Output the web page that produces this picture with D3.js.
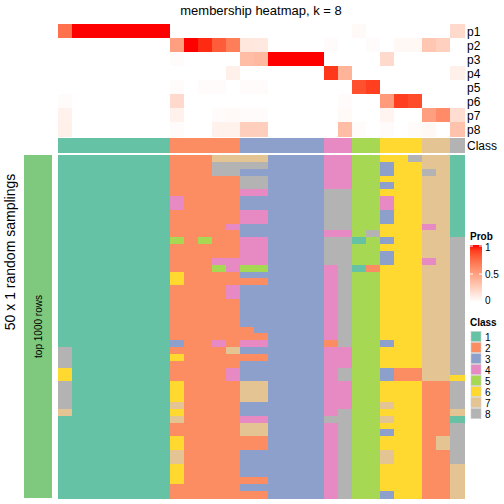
<!DOCTYPE html>
<html><head><meta charset="utf-8">
<script src="https://cdn.jsdelivr.net/npm/d3@7"></script>
<style>body{margin:0;background:#fff}svg{display:block;font-family:"Liberation Sans",Arial,sans-serif}</style>
</head><body><svg id="c" width="504" height="504"></svg>
<script>
const probRows = ["p1","p2","p3","p4","p5","p6","p7","p8"];
const prob = [
 [0.72,1,1,1,1,1,1,1, 0,0,0,0,0, 0,0,0,0,0,0, 0,0, 0.03,0, 0,0,0, 0,0, 0.2],
 [0,0,0,0,0,0,0,0, 0.5,1,0.95,0.8,0.66, 0.13,0.12,0,0,0,0, 0.02,0, 0,0.02, 0,0.04,0.04, 0.3,0.25, 0],
 [0,0,0,0,0,0,0,0, 0.02,0,0,0,0, 0.35,0.37,1,1,1,1, 0,0, 0,0, 0.2,0,0, 0,0, 0],
 [0,0,0,0,0,0,0,0, 0,0,0,0,0.08, 0,0,0,0,0,0, 0.92,0.4, 0,0, 0,0,0, 0,0, 0.08],
 [0,0,0,0,0,0,0,0, 0.02,0,0.02,0.02,0, 0.02,0.02,0,0,0,0, 0,0, 0.84,0.9, 0,0,0, 0,0, 0],
 [0.02,0,0,0,0,0,0,0, 0.2,0,0,0,0, 0,0,0,0,0,0, 0,0.02, 0,0, 0.52,0.9,0.86, 0,0, 0],
 [0.07,0,0,0,0,0,0,0, 0.07,0,0,0.02,0.03, 0.02,0.02,0,0,0,0, 0,0.03, 0,0, 0.06,0,0, 0.5,0.6, 0.18],
 [0.08,0,0,0,0,0,0,0, 0.02,0,0,0.07,0.07, 0.26,0.26,0,0,0,0, 0,0.35, 0.02,0, 0.02,0,0.02, 0.04,0, 0.32]
];
const classes = [1,1,1,1,1,1,1,1, 2,2,2,2,2, 3,3,3,3,3,3, 4,4, 5,5, 6,6,6, 7,7, 8];
const membership = [
 "11111111 22277 773333 44 55 668 77 1",
 "11111111 22288 883333 44 55 366 77 1",
 "11111111 22288 333333 44 55 366 87 1",
 "11111111 22222 883333 44 55 666 77 1",
 "11111111 22222 883333 44 55 366 77 1",
 "11111111 22222 443333 88 55 666 77 1",
 "11111111 42222 333333 88 55 466 77 1",
 "11111111 42222 333333 88 55 466 77 1",
 "11111111 22222 443333 88 55 366 77 1",
 "11111111 22222 443333 88 55 366 77 1",
 "11111111 22224 333333 88 55 666 47 1",
 "11111111 22222 333333 44 58 666 77 1",
 "11111111 52522 443333 88 15 366 77 8",
 "11111111 22222 443333 88 55 666 77 8",
 "11111111 22222 443333 88 55 366 77 8",
 "11111111 22244 443333 88 55 366 47 8",
 "11111111 22254 553333 48 12 666 77 8",
 "11111111 62222 333333 48 55 666 77 8",
 "11111111 62222 223333 48 55 666 77 8",
 "11111111 22224 333333 48 55 666 77 8",
 "11111111 22224 333333 48 55 666 77 8",
 "11111111 22222 333333 48 55 666 77 8",
 "11111111 22222 333333 48 55 666 77 8",
 "11111111 22222 333333 48 55 666 77 8",
 "11111111 22222 333333 48 55 666 77 8",
 "11111111 22222 233333 48 55 666 77 8",
 "11111111 22222 223333 48 55 666 77 8",
 "11111111 32242 443333 28 55 366 77 8",
 "81111111 22227 333333 44 55 666 77 8",
 "81111111 62222 223333 44 55 666 77 8",
 "81111111 22222 333333 44 55 666 77 8",
 "61111111 22224 333333 48 55 322 77 8",
 "61111111 22224 333333 48 55 322 77 6",
 "81111111 62222 773333 44 55 666 22 8",
 "81111111 62222 773333 44 55 666 22 8",
 "81111111 62222 773333 44 55 666 22 8",
 "81111111 72222 333333 44 55 766 22 8",
 "71111111 62222 333333 48 55 666 22 7",
 "11111111 72222 443333 88 55 766 22 1",
 "11111111 22222 773333 48 55 666 22 8",
 "11111111 22222 773333 48 55 366 22 8",
 "11111111 62222 223333 48 55 666 27 8",
 "11111111 62222 223333 48 55 666 27 8",
 "11111111 72222 333333 48 55 766 22 8",
 "11111111 72222 333333 48 55 766 22 8",
 "11111111 62222 333333 48 55 666 22 7",
 "11111111 62222 333333 48 55 666 22 7",
 "11111111 62222 223333 48 55 666 22 7",
 "11111111 22222 333333 48 55 666 22 7",
 "11111111 22222 223333 48 55 366 22 7"
];
const classLabels = ["1","2","3","4","5","6","7","8"];
const classColors = ["#66C2A5","#FC8D62","#8DA0CB","#E78AC3","#A6D854","#FFD92F","#E5C494","#B3B3B3"];
const probTicks = [0, 0.5, 1];

const svg = d3.select("#c");
const nCol = classes.length;
const cols = d3.range(nCol);
const x = d3.scaleBand().domain(cols).range([58, 464]);
const yTop = d3.scaleBand().domain(probRows).range([24, 136]);
const memRows = membership.map(s => s.replace(/ /g, "").split("").map(Number));
const yMem = d3.scaleBand().domain(d3.range(memRows.length)).range([155, 498]);
const probColor = d3.scaleLinear().domain([0, 1]).range(["#ffffff", "#ff0000"]).interpolate(d3.interpolateLab);
const clsColor = d3.scaleOrdinal().domain([1,2,3,4,5,6,7,8]).range(classColors);

// title
svg.append("text").attr("x", 261).attr("y", 15).attr("text-anchor", "middle")
  .attr("font-size", 13).text("membership heatmap, k = 8");

// top probability heatmap
const gTop = svg.append("g").attr("shape-rendering", "crispEdges");
prob.forEach((row, i) => {
  gTop.selectAll(null).data(row).join("rect")
    .attr("x", (d, j) => x(j)).attr("y", yTop(probRows[i]))
    .attr("width", x.bandwidth() + 0.5).attr("height", yTop.bandwidth() + 0.5)
    .attr("fill", d => probColor(d));
});
svg.selectAll(null).data(probRows).join("text")
  .attr("x", 467).attr("y", d => yTop(d) + yTop.bandwidth() / 2 + 4.5)
  .attr("font-size", 12).text(d => d);

// class annotation row
svg.append("g").attr("shape-rendering", "crispEdges").selectAll(null).data(classes).join("rect")
  .attr("x", (d, j) => x(j)).attr("y", 138)
  .attr("width", x.bandwidth() + 0.5).attr("height", 15)
  .attr("fill", d => clsColor(d));
svg.append("text").attr("x", 467).attr("y", 150).attr("font-size", 12).text("Class");

// membership heatmap
const gMem = svg.append("g").attr("shape-rendering", "crispEdges");
memRows.forEach((row, i) => {
  gMem.selectAll(null).data(row).join("rect")
    .attr("x", (d, j) => x(j)).attr("y", yMem(i))
    .attr("width", x.bandwidth() + 0.5).attr("height", yMem.bandwidth() + 0.6)
    .attr("fill", d => clsColor(d));
});

// left annotation
svg.append("rect").attr("x", 24).attr("y", 155).attr("width", 28).attr("height", 343).attr("fill", "#7FC97F");
svg.append("text").attr("transform", "translate(41.5,326.5) rotate(-90)").attr("text-anchor", "middle")
  .attr("font-size", 10).text("top 1000 rows");
svg.append("text").attr("transform", "translate(15,252) rotate(-90)").attr("text-anchor", "middle")
  .attr("font-size", 14).text("50 x 1 random samplings");

// Prob legend
svg.append("text").attr("x", 470).attr("y", 240).attr("font-size", 10).attr("font-weight", "bold").text("Prob");
const defs = svg.append("defs");
const grad = defs.append("linearGradient").attr("id", "pg").attr("x1", 0).attr("y1", 1).attr("x2", 0).attr("y2", 0);
d3.range(0, 1.01, 0.1).forEach(t => grad.append("stop").attr("offset", t).attr("stop-color", probColor(t)));
const yLeg = d3.scaleLinear().domain([0, 1]).range([302, 246]);
svg.append("rect").attr("x", 470).attr("y", 245).attr("width", 12).attr("height", 57).attr("fill", "url(#pg)");
svg.selectAll(null).data(probTicks).join("line")
  .attr("x1", 470).attr("x2", 473).attr("y1", d => yLeg(d)).attr("y2", d => yLeg(d)).attr("stroke", "#fff").attr("stroke-width", 1);
svg.selectAll(null).data(probTicks).join("line")
  .attr("x1", 479).attr("x2", 482).attr("y1", d => yLeg(d)).attr("y2", d => yLeg(d)).attr("stroke", "#fff").attr("stroke-width", 1);
svg.selectAll(null).data(probTicks).join("text")
  .attr("x", 485).attr("y", d => yLeg(d) + (d === 1 ? 5 : d === 0 ? 1.5 : 3.5)).attr("font-size", 10).text(d => d);

// Class legend
svg.append("text").attr("x", 470).attr("y", 326).attr("font-size", 10).attr("font-weight", "bold").text("Class");
const yCls = d3.scaleBand().domain(classLabels).range([331, 419]);
svg.selectAll(null).data(classLabels).join("rect")
  .attr("x", 471).attr("y", d => yCls(d) + 0.5).attr("width", 10).attr("height", 10)
  .attr("fill", (d, i) => classColors[i]).attr("stroke", "#ccc").attr("stroke-width", 0.6);
svg.selectAll(null).data(classLabels).join("text")
  .attr("x", 485).attr("y", d => yCls(d) + 9.5).attr("font-size", 10).text(d => d);
</script></body></html>
